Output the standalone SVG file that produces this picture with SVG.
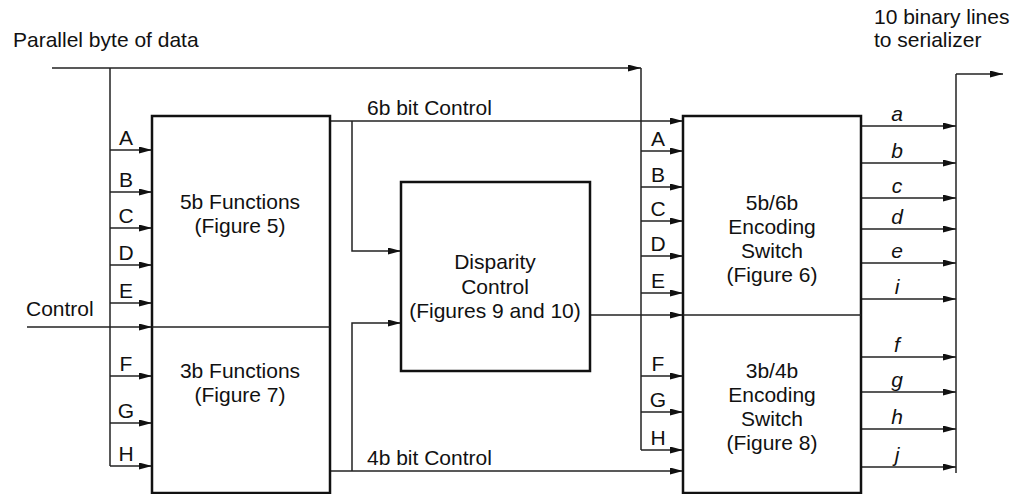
<svg xmlns="http://www.w3.org/2000/svg" width="1024" height="494" viewBox="0 0 1024 494">
<style>
text{font-family:"Liberation Sans",Arial,sans-serif;font-size:21px;fill:#111}
.c{text-anchor:middle}
.i{font-style:italic;text-anchor:middle}
.box{fill:#fff;stroke:#111;stroke-width:2.5}
.ln{fill:none;stroke:#222;stroke-width:1.5}
.a{marker-end:url(#ar)}
</style>
<defs>
<marker id="ar" markerUnits="userSpaceOnUse" markerWidth="14" markerHeight="8" refX="13" refY="3.5" orient="auto">
<path d="M0,0 L13,3.5 L0,7 z" fill="#111"/>
</marker>
</defs>
<g id="labels">
<text x="13" y="47">Parallel byte of data</text>
<text x="874" y="24">10 binary lines</text>
<text x="874" y="47">to serializer</text>
<text x="26" y="316">Control</text>
<text x="367" y="115">6b bit Control</text>
<text x="367" y="465">4b bit Control</text>
</g>
<g id="connectors">
<path class="ln a" d="M52,68 H641"/>
<path class="ln" d="M641,68 V450"/>
<path class="ln" d="M110,68 V466"/>
<path class="ln a" d="M110,150 H152"/>
<path class="ln a" d="M110,192 H152"/>
<path class="ln a" d="M110,228 H152"/>
<path class="ln a" d="M110,265 H152"/>
<path class="ln a" d="M110,303 H152"/>
<path class="ln a" d="M27,327 H152"/>
<path class="ln a" d="M110,376 H152"/>
<path class="ln a" d="M110,423 H152"/>
<path class="ln a" d="M110,466 H152"/>
<path class="ln a" d="M330,121 H683"/>
<path class="ln a" d="M352,121 V251 H401"/>
<path class="ln a" d="M330,471 H683"/>
<path class="ln a" d="M352,471 V323 H401"/>
<path class="ln a" d="M590,315 H683"/>
<path class="ln a" d="M641,151 H683"/>
<path class="ln a" d="M641,187 H683"/>
<path class="ln a" d="M641,221 H683"/>
<path class="ln a" d="M641,256 H683"/>
<path class="ln a" d="M641,293 H683"/>
<path class="ln a" d="M641,376 H683"/>
<path class="ln a" d="M641,412 H683"/>
<path class="ln a" d="M641,450 H683"/>
<path class="ln a" d="M861,126 H956"/>
<path class="ln a" d="M861,163 H956"/>
<path class="ln a" d="M861,198 H956"/>
<path class="ln a" d="M861,229 H956"/>
<path class="ln a" d="M861,263 H956"/>
<path class="ln a" d="M861,299 H956"/>
<path class="ln a" d="M861,357 H956"/>
<path class="ln a" d="M861,392 H956"/>
<path class="ln a" d="M861,429 H956"/>
<path class="ln a" d="M861,467 H956"/>
<path class="ln" d="M956,473 V74"/>
<path class="ln a" d="M956,74 H1003"/>
<text class="c" x="126" y="145">A</text>
<text class="c" x="126" y="187">B</text>
<text class="c" x="126" y="223">C</text>
<text class="c" x="126" y="260">D</text>
<text class="c" x="126" y="298">E</text>
<text class="c" x="126" y="371">F</text>
<text class="c" x="126" y="418">G</text>
<text class="c" x="126" y="461">H</text>
<text class="c" x="658" y="146">A</text>
<text class="c" x="658" y="182">B</text>
<text class="c" x="658" y="216">C</text>
<text class="c" x="658" y="251">D</text>
<text class="c" x="658" y="288">E</text>
<text class="c" x="658" y="371">F</text>
<text class="c" x="658" y="407">G</text>
<text class="c" x="658" y="445">H</text>
<text class="i" x="897" y="121">a</text>
<text class="i" x="897" y="158">b</text>
<text class="i" x="897" y="193">c</text>
<text class="i" x="897" y="224">d</text>
<text class="i" x="897" y="258">e</text>
<text class="i" x="897" y="294">i</text>
<text class="i" x="897" y="352">f</text>
<text class="i" x="897" y="387">g</text>
<text class="i" x="897" y="424">h</text>
<text class="i" x="897" y="462">j</text>
</g>
<g id="n5b3b">
<rect class="box" x="152" y="116" width="178" height="377"/>
<path class="ln" d="M152,327 H330"/>
<text class="c" x="240" y="209">5b Functions</text>
<text class="c" x="240" y="233">(Figure 5)</text>
<text class="c" x="240" y="378">3b Functions</text>
<text class="c" x="240" y="402">(Figure 7)</text>
</g>
<g id="disparity">
<rect class="box" x="401" y="182" width="189" height="189"/>
<text class="c" x="495" y="269">Disparity</text>
<text class="c" x="495" y="294">Control</text>
<text class="c" x="495" y="318">(Figures 9 and 10)</text>
</g>
<g id="switch">
<rect class="box" x="683" y="116" width="178" height="377"/>
<path class="ln" d="M683,315 H861"/>
<text class="c" x="772" y="210">5b/6b</text>
<text class="c" x="772" y="234">Encoding</text>
<text class="c" x="772" y="258">Switch</text>
<text class="c" x="772" y="282">(Figure 6)</text>
<text class="c" x="772" y="378">3b/4b</text>
<text class="c" x="772" y="402">Encoding</text>
<text class="c" x="772" y="426">Switch</text>
<text class="c" x="772" y="450">(Figure 8)</text>
</g>
</svg>
